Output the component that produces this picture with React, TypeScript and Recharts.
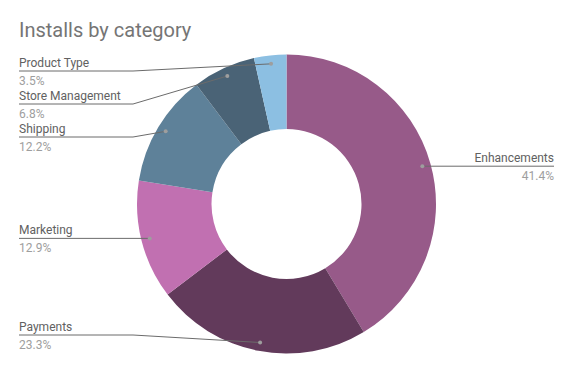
import React from "react";
import { PieChart, Pie, Cell } from "recharts";

const categories = ["Enhancements", "Payments", "Marketing", "Shipping", "Store Management", "Product Type"];
const shares = [41.4, 23.3, 12.9, 12.2, 6.8, 3.5];
const colors = ["#975a89", "#623a5b", "#c170b1", "#5e8199", "#4a6376", "#8cbfe2"];

const data = categories.map((name, i) => ({ name, value: shares[i] }));

const CX = 286.5;
const CY = 204;
const OUTER = 149.5;
const INNER = 75;
const DOT_R = 141;
const RAD = Math.PI / 180;

// where each label line sits; left side labels are pushed apart so they don't overlap
const total = shares.reduce((a, b) => a + b, 0);
const layout: { side: "left" | "right"; lineY: number }[] = [];
{
  let acc = 0;
  const mids = shares.map((v) => {
    const mid = 90 - ((acc + v / 2) / total) * 360;
    acc += v;
    return mid;
  });
  mids.forEach((m) => {
    const x = Math.cos(m * RAD);
    const y = CY - DOT_R * Math.sin(m * RAD);
    layout.push({ side: x >= 0 ? "right" : "left", lineY: y });
  });
  const left = layout.map((l, i) => ({ l, i })).filter((o) => o.l.side === "left").sort((a, b) => a.l.lineY - b.l.lineY);
  const top = 71;
  const bottom = 335;
  const gap = 33;
  let prev = -Infinity;
  left.forEach(({ l }) => {
    l.lineY = Math.min(bottom, Math.max(top, l.lineY, prev + gap));
    prev = l.lineY;
  });
}

const renderLabel = (props: any) => {
  const { cx, cy, midAngle, index, name, value } = props;
  const dx = cx + DOT_R * Math.cos(-midAngle * RAD);
  const dy = cy + DOT_R * Math.sin(-midAngle * RAD);
  const { side, lineY } = layout[index];
  const pct = `${Number(value).toFixed(1)}%`;
  if (side === "right") {
    const endX = 554;
    return (
      <g key={`lbl-${index}`}>
        <polyline points={`${dx},${dy} ${endX},${lineY}`} fill="none" stroke="#6b6b6b" strokeWidth={1} />
        <circle cx={dx} cy={dy} r={2} fill="#9e9e9e" />
        <text x={endX} y={lineY - 4} textAnchor="end" fontSize={12} fill="#616161" fontFamily="Roboto">{name}</text>
        <text x={endX} y={lineY + 14} textAnchor="end" fontSize={12} fill="#9e9e9e" fontFamily="Roboto">{pct}</text>
      </g>
    );
  }
  const startX = 19;
  const elbowX = Math.min(133, dx);
  return (
    <g key={`lbl-${index}`}>
      <polyline points={`${startX},${lineY} ${elbowX},${lineY} ${dx},${dy}`} fill="none" stroke="#6b6b6b" strokeWidth={1} />
      <circle cx={dx} cy={dy} r={2} fill="#9e9e9e" />
      <text x={startX} y={lineY - 4} fontSize={12} fill="#616161" fontFamily="Roboto">{name}</text>
      <text x={startX} y={lineY + 14} fontSize={12} fill="#9e9e9e" fontFamily="Roboto">{pct}</text>
    </g>
  );
};

export default function App() {
  return (
    <div style={{ position: "absolute", left: 0, top: 0, width: 573, height: 371, background: "#fff", fontFamily: "Roboto" }}>
      <div style={{ position: "absolute", left: 19, top: 18, fontSize: 20, color: "#757575", lineHeight: "24px" }}>
        Installs by category
      </div>
      <PieChart width={573} height={371} margin={{ top: 0, right: 0, bottom: 0, left: 0 }}>
        <Pie
          data={data}
          dataKey="value"
          nameKey="name"
          cx={CX}
          cy={CY}
          innerRadius={INNER}
          outerRadius={OUTER}
          startAngle={90}
          endAngle={-270}
          stroke="none"
          labelLine={false}
          label={renderLabel}
          isAnimationActive={false}
        >
          {data.map((entry, i) => (
            <Cell key={`cell-${i}`} fill={colors[i]} />
          ))}
        </Pie>
      </PieChart>
    </div>
  );
}
